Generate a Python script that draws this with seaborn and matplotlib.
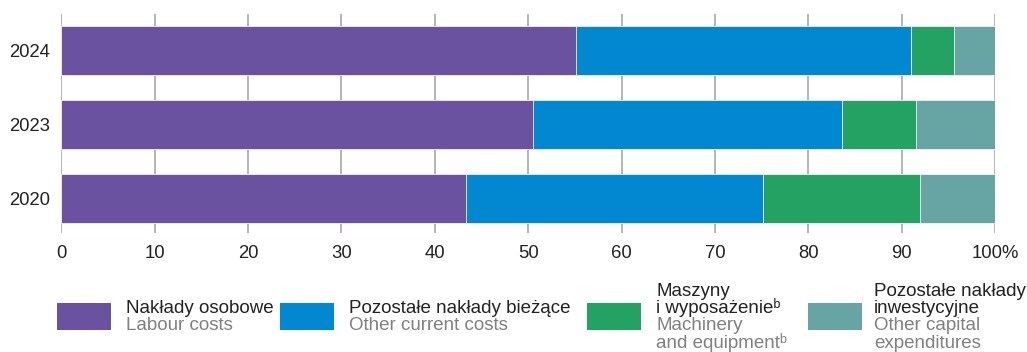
import pandas as pd
import matplotlib.pyplot as plt
import seaborn as sns
from matplotlib.patches import Rectangle

# Data (percent shares)
years = ['2024', '2023', '2020']
labour = [55.1, 50.5, 43.3]
other_current = [35.9, 33.1, 31.8]
machinery = [4.6, 7.9, 16.9]
other_capital = [4.4, 8.5, 8.0]

series_pl = ['Nakłady osobowe', 'Pozostałe nakłady bieżące',
             'Maszyny\ni wyposażenieᵇ', 'Pozostałe nakłady\ninwestycyjne']
series_en = ['Labour costs', 'Other current costs',
             'Machinery\nand equipmentᵇ', 'Other capital\nexpenditures']
colors = ['#6b52a0', '#0288d1', '#24a263', '#67a5a5']
xticks = [0, 10, 20, 30, 40, 50, 60, 70, 80, 90, 100]
xtick_labels = ['0', '10', '20', '30', '40', '50', '60', '70', '80', '90', '100%']

sns.set_style('white')
plt.rcParams['font.family'] = ['Liberation Sans', 'DejaVu Sans']

df = pd.DataFrame({'year': years, 'labour': labour, 'current': other_current,
                   'machinery': machinery, 'capital': other_capital})
cols = ['labour', 'current', 'machinery', 'capital']
cum = df[cols].cumsum(axis=1)
cum['year'] = df['year']

W, H = 1027, 352
fig = plt.figure(figsize=(W / 100, H / 100), dpi=100)
ax = fig.add_axes([61.3 / W, 1 - 233 / H, (995 - 61.3) / W, (233 - 14) / H])

# stacked bars: draw cumulative totals from longest to shortest
for col, c in reversed(list(zip(cols, colors))):
    sns.barplot(data=cum, x=col, y='year', order=years, color=c, width=0.662,
                edgecolor='#f4f0fa', linewidth=0.6, saturation=1, ax=ax, zorder=3)

ax.set_xlim(0, 100)
ax.set_ylim(2.466, -0.493)
ax.set_xticks(xticks)
ax.set_xticklabels(xtick_labels)
ax.set_xlabel('')
ax.set_ylabel('')
ax.grid(axis='x', color='#a0a0a0', linewidth=1.1, zorder=0)
ax.grid(axis='y', visible=False)
ax.set_axisbelow(True)
for s in ax.spines.values():
    s.set_visible(False)
ax.tick_params(axis='both', length=0, labelsize=13.3, colors='#222222')
ax.tick_params(axis='x', pad=9)
ax.tick_params(axis='y', pad=8)

# legend drawn manually below the plot
sq_x = [57, 280, 587, 808]
txt_x = [126, 349, 656, 874]
for i in range(4):
    fig.add_artist(Rectangle((sq_x[i] / W, 1 - 330 / H), 54 / W, 27 / H,
                             transform=fig.transFigure, color=colors[i], lw=0))
    pl_lines = series_pl[i].split('\n')
    en_lines = series_en[i].split('\n')
    # Polish lines end at baseline 313, English lines start at baseline 330
    for k, line in enumerate(pl_lines):
        y = 313 - 17.5 * (len(pl_lines) - 1 - k)
        fig.text(txt_x[i] / W, 1 - y / H, line, fontsize=13.5, color='#222222', va='baseline')
    for k, line in enumerate(en_lines):
        y = 330 + 17.5 * k
        fig.text(txt_x[i] / W, 1 - y / H, line, fontsize=13.5, color='#808080', va='baseline')

fig.savefig('out.png', dpi=100)
